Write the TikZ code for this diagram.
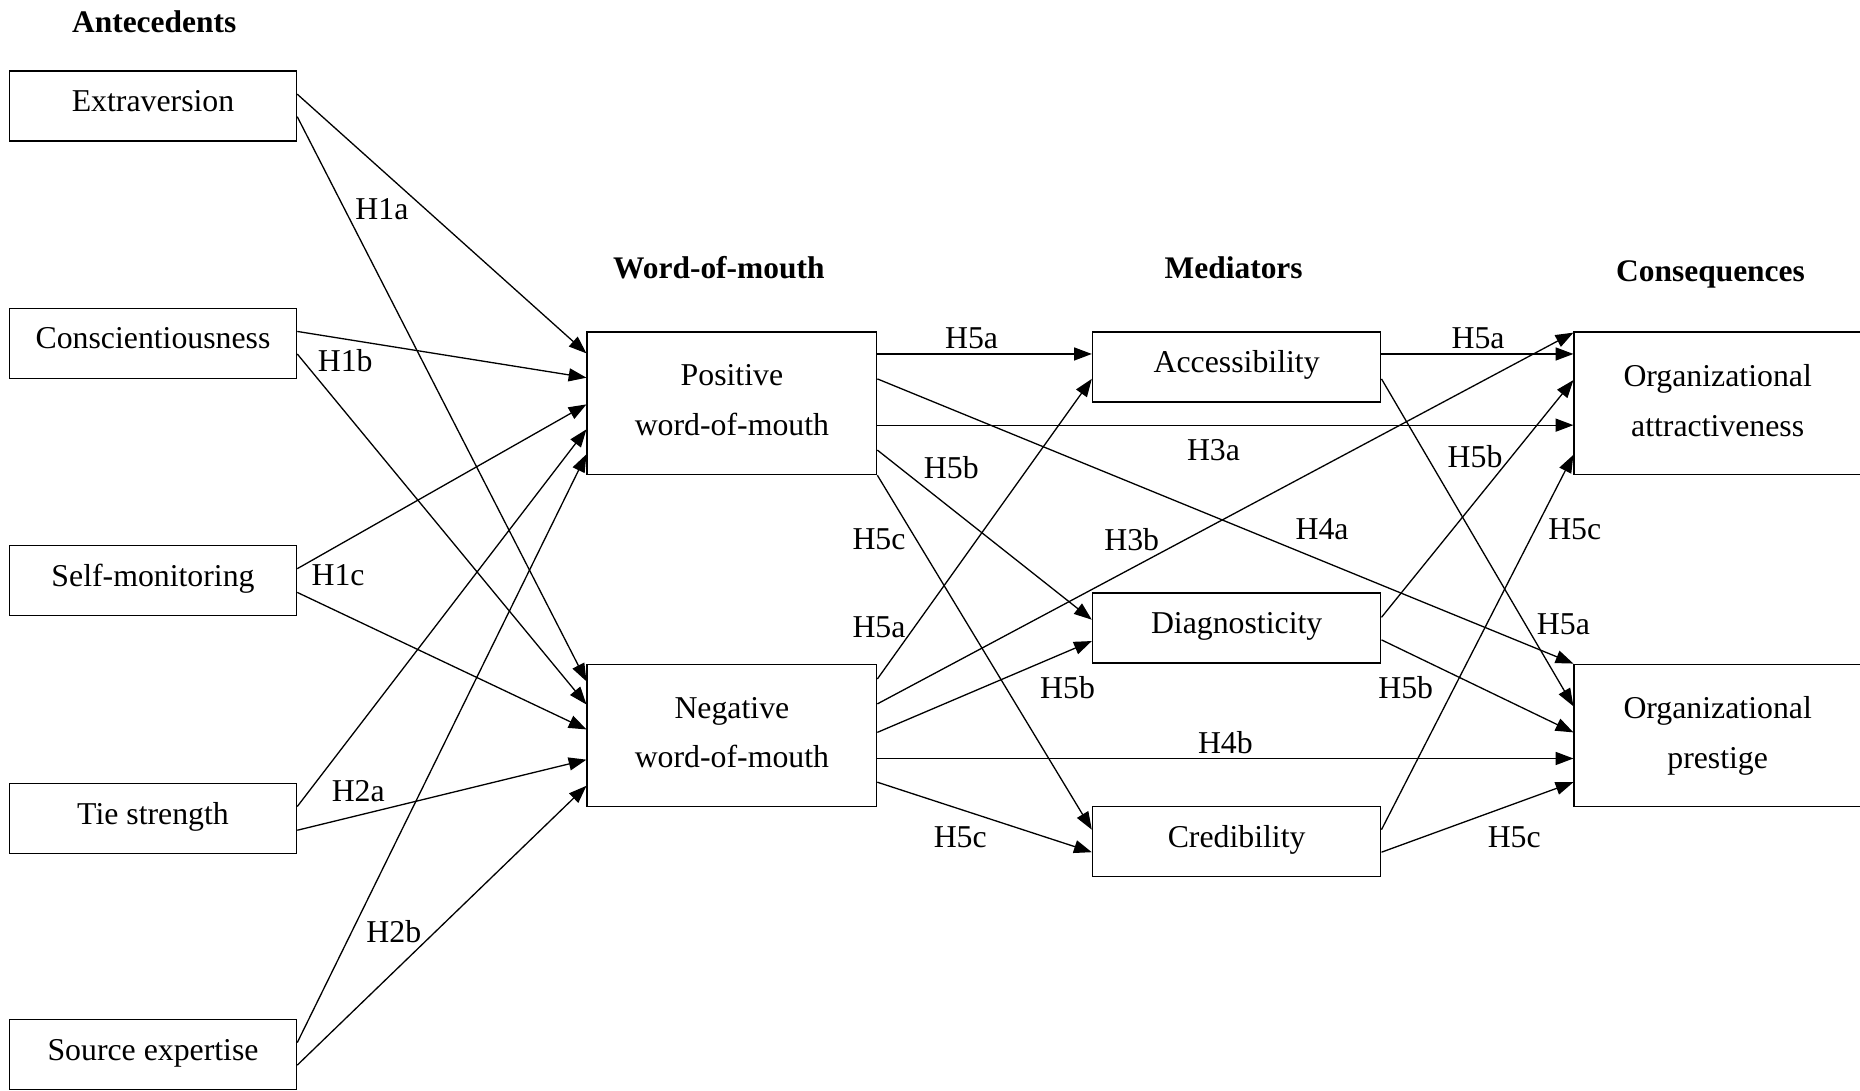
\documentclass[tikz,border=0pt]{standalone}
\usepackage{fontspec}
\setmainfont{Liberation Serif}
\usetikzlibrary{arrows.meta,calc}
\begin{document}
\begin{tikzpicture}[x=1pt,y=-1pt,
  box/.style={draw, line width=1.2pt, rectangle, inner sep=0pt, align=center, font=\fontsize{26.8}{42}\selectfont},
  sbox/.style={box, minimum width=242pt, minimum height=59pt, text height=18pt, text depth=8.6pt},
  lbox/.style={box, minimum width=244pt, minimum height=120pt, text depth=5pt},
  hd/.style={font=\fontsize{26.5}{32}\selectfont\bfseries, inner sep=0pt, anchor=base},
  lab/.style={font=\fontsize{26.8}{32}\selectfont, inner sep=0pt},
  arr/.style={line width=1.1pt, -{Triangle[length=15pt,width=11pt]}},
]
\useasboundingbox (0,0) rectangle (1568,919);

% headings
\node[hd] (hA) at (130,27) {Antecedents};
\node[hd] (hW) at (606,235) {Word-of-mouth};
\node[hd] (hM) at (1040,235) {Mediators};
\node[hd] (hC) at (1442,237) {Consequences};

% antecedents
\node[sbox] (ext)  at (129,89.5)  {Extraversion};
\node[sbox] (cons) at (129,289.5) {Conscientiousness};
\node[sbox] (self) at (129,489.5) {Self-monitoring};
\node[sbox] (tie)  at (129,690)   {Tie strength};
\node[sbox] (src)  at (129,889)   {Source expertise};

% word of mouth
\node[lbox] (pos) at (617,340) {Positive\\word-of-mouth};
\node[lbox] (neg) at (617,620) {Negative\\word-of-mouth};

% mediators
\node[sbox, minimum width=243pt] (acc)  at (1042.5,309.5) {Accessibility};
\node[sbox, minimum width=243pt] (diag) at (1042.5,529.5) {Diagnosticity};
\node[sbox, minimum width=243pt] (cred) at (1042.5,709.5) {Credibility};

% consequences
\node[lbox, minimum width=242pt] (attr) at (1448,340) {Organizational\\attractiveness};
\node[lbox, minimum width=242pt] (pres) at (1448,620) {Organizational\\prestige};

% antecedents -> WOM
\draw[arr] ($(ext.north east)+(0,20)$) -- ($(pos.north west)+(0,18.5)$);
\draw[arr] ($(ext.north east)+(0,39)$) -- ($(neg.north west)+(0,15)$);
\draw[arr] ($(cons.north east)+(0,20)$) -- ($(pos.north west)+(0,39)$);
\draw[arr] ($(cons.north east)+(0,39)$) -- ($(neg.north west)+(0,34.5)$);
\draw[arr] ($(self.north east)+(0,20)$) -- ($(pos.north west)+(0,61.5)$);
\draw[arr] ($(self.north east)+(0,40)$) -- ($(neg.north west)+(0,55.5)$);
\draw[arr] ($(tie.north east)+(0,20)$) -- ($(pos.north west)+(0,82.5)$);
\draw[arr] ($(tie.north east)+(0,40)$) -- ($(neg.north west)+(0,81)$);
\draw[arr] ($(src.north east)+(0,20)$) -- ($(pos.north west)+(0,103.5)$);
\draw[arr] ($(src.north east)+(0,39)$) -- ($(neg.north west)+(0,103)$);

% positive WOM
\draw[arr] ($(pos.north east)+(0,19)$) -- ($(acc.north west)+(0,19)$);
\draw[arr] ($(pos.north east)+(0,40)$) -- (pres.north west);
\draw[arr] ($(pos.north east)+(0,79)$) -- ($(attr.north west)+(0,79)$);
\draw[arr] ($(pos.north east)+(0,100)$) -- ($(diag.north west)+(0,23)$);
\draw[arr] (pos.south east) -- ($(cred.north west)+(0,20)$);

% negative WOM
\draw[arr] ($(neg.north east)+(0,13)$) -- ($(acc.north west)+(0,40)$);
\draw[arr] ($(neg.north east)+(0,34)$) -- ($(attr.north west)+(0,1)$);
\draw[arr] ($(neg.north east)+(0,58)$) -- ($(diag.north west)+(0,41)$);
\draw[arr] ($(neg.north east)+(0,80)$) -- ($(pres.north west)+(0,80)$);
\draw[arr] ($(neg.north east)+(0,100)$) -- ($(cred.north west)+(0,39)$);

% mediators -> consequences
\draw[arr] ($(acc.north east)+(0,19)$) -- ($(attr.north west)+(0,19)$);
\draw[arr] ($(acc.north east)+(0,40)$) -- ($(pres.north west)+(0,36)$);
\draw[arr] ($(diag.north east)+(0,21)$) -- ($(attr.north west)+(0,41)$);
\draw[arr] ($(diag.north east)+(0,40)$) -- ($(pres.north west)+(0,58)$);
\draw[arr] ($(cred.north east)+(0,20)$) -- ($(attr.north west)+(0,104)$);
\draw[arr] ($(cred.north east)+(0,39)$) -- ($(pres.north west)+(0,100)$);

% labels
\node[lab] (l1)  at (322,176)   {H1a};
\node[lab] (l2)  at (291,304)   {H1b};
\node[lab] (l3)  at (285,485)   {H1c};
\node[lab] (l4)  at (302,667)   {H2a};
\node[lab] (l5)  at (332,785)   {H2b};
\node[lab] (l6)  at (819,285)   {H5a};
\node[lab] (l7)  at (802,394)   {H5b};
\node[lab] (l8)  at (741,455)   {H5c};
\node[lab] (l9)  at (954,455)   {H3b};
\node[lab] (l10) at (741,528.5) {H5a};
\node[lab] (l11) at (900,580)   {H5b};
\node[lab] (l12) at (809.5,705.5) {H5c};
\node[lab] (l13) at (1023,379.5) {H3a};
\node[lab] (l14) at (1114.5,446) {H4a};
\node[lab] (l15) at (1033,626)  {H4b};
\node[lab] (l16) at (1246,285)  {H5a};
\node[lab] (l17) at (1243.5,385) {H5b};
\node[lab] (l18) at (1327.5,446) {H5c};
\node[lab] (l19) at (1318,526)  {H5a};
\node[lab] (l20) at (1185,579.5) {H5b};
\node[lab] (l21) at (1276.5,705.5) {H5c};
\end{tikzpicture}
\end{document}
